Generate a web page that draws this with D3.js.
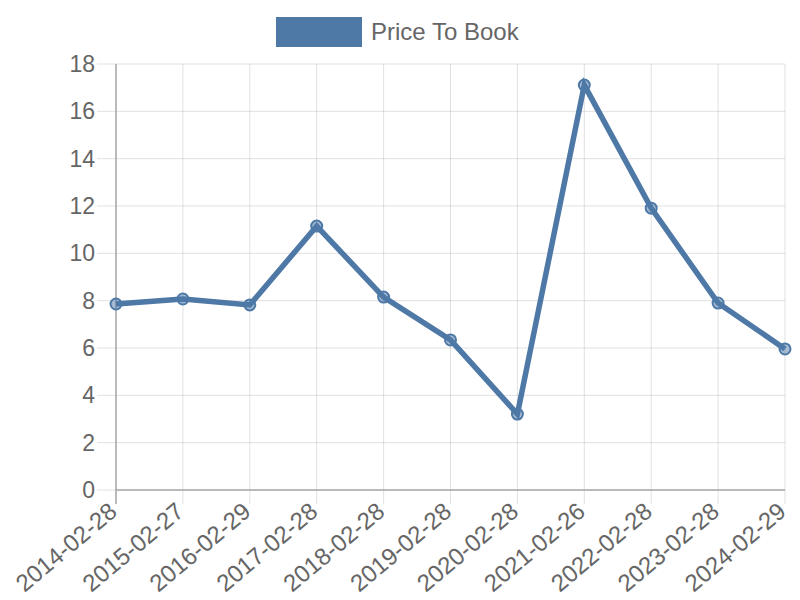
<!DOCTYPE html>
<html>
<head>
<meta charset="utf-8">
<script src="https://cdn.jsdelivr.net/npm/d3@7"></script>
<style>
  body { margin: 0; background: #fff; }
  #chart { width: 800px; height: 600px; }
  text { font-family: "Liberation Sans", Arial, sans-serif; fill: #666; }
</style>
</head>
<body>
<div id="chart"></div>
<script>
//Datos
const fechas = ['2014-02-28','2015-02-27','2016-02-29','2017-02-28','2018-02-28','2019-02-28',
    '2020-02-28','2021-02-26','2022-02-28','2023-02-28','2024-02-29'];
const priceToBook = [7.86, 8.07, 7.82, 11.15, 8.15, 6.34, 3.21, 17.11, 11.91, 7.90, 5.96];
const yTicks = [0, 2, 4, 6, 8, 10, 12, 14, 16, 18];
const serieNombre = 'Price To Book';

const COLOR_LINE = '#4e79a7',
    COLOR_GRID = 'rgba(0,0,0,0.12)',
    COLOR_AXIS = '#a8a8a8';

let margin = {top: 64, right: 15, bottom: 110, left: 116},
    width = 800 - margin.left - margin.right,
    height = 600 - margin.top - margin.bottom;

let svg = d3.select('#chart')
    .append('svg')
      .attr('width', 800)
      .attr('height', 600)
    .append('g')
      .attr('transform', 'translate(' + margin.left + ',' + margin.top + ')');

let x = d3.scalePoint()
    .domain(fechas)
    .range([0, width]);

let y = d3.scaleLinear()
    .domain([0, 18])
    .range([height, 0]);

//Rejilla
svg.append('g')
    .selectAll('line')
    .data(yTicks)
    .enter()
    .append('line')
      .attr('x1', -19).attr('x2', width)
      .attr('y1', d => y(d)).attr('y2', d => y(d))
      .attr('stroke', COLOR_GRID);

svg.append('g')
    .selectAll('line')
    .data(fechas)
    .enter()
    .append('line')
      .attr('x1', d => x(d)).attr('x2', d => x(d))
      .attr('y1', 0).attr('y2', height + 14)
      .attr('stroke', COLOR_GRID);

//Ejes
let yAxis = svg.append('g')
    .call(d3.axisLeft(y).tickValues(yTicks).tickSize(0).tickPadding(21));
yAxis.select('.domain').remove();
yAxis.selectAll('.tick text').attr('font-size', 23).attr('fill', '#666');

let xAxis = svg.append('g')
    .attr('transform', 'translate(0,' + height + ')')
    .call(d3.axisBottom(x).tickSize(0));
xAxis.select('.domain').remove();
xAxis.selectAll('.tick text')
    .attr('font-size', 24)
    .attr('fill', '#666')
    .attr('text-anchor', 'end')
    .attr('dy', null)
    .attr('y', 0)
    .attr('transform', 'translate(2,24) rotate(-40)');

//Ejes principales
svg.append('line')
    .attr('x1', 0).attr('x2', width)
    .attr('y1', height).attr('y2', height)
    .attr('stroke', COLOR_AXIS).attr('stroke-width', 1.5);
svg.append('line')
    .attr('x1', 0).attr('x2', 0)
    .attr('y1', 0).attr('y2', height + 14)
    .attr('stroke', COLOR_AXIS).attr('stroke-width', 1.5);

//Línea
let line = d3.line()
    .x((d, i) => x(fechas[i]))
    .y(d => y(d));

svg.append('path')
    .datum(priceToBook)
    .attr('fill', 'none')
    .attr('stroke', COLOR_LINE)
    .attr('stroke-width', 5.5)
    .attr('stroke-linejoin', 'miter')
    .attr('d', line);

svg.append('g')
    .selectAll('circle')
    .data(priceToBook)
    .enter()
    .append('circle')
      .attr('cx', (d, i) => x(fechas[i]))
      .attr('cy', d => y(d))
      .attr('r', 5.5)
      .attr('fill', 'rgba(78,121,167,0.5)')
      .attr('stroke', COLOR_LINE)
      .attr('stroke-width', 2);

//Leyenda
let legend = d3.select('svg').append('g');
legend.append('rect')
    .attr('x', 276).attr('y', 17)
    .attr('width', 86).attr('height', 30)
    .attr('fill', COLOR_LINE);
legend.append('text')
    .attr('x', 371).attr('y', 40)
    .attr('font-size', 24)
    .text(serieNombre);
</script>
</body>
</html>
